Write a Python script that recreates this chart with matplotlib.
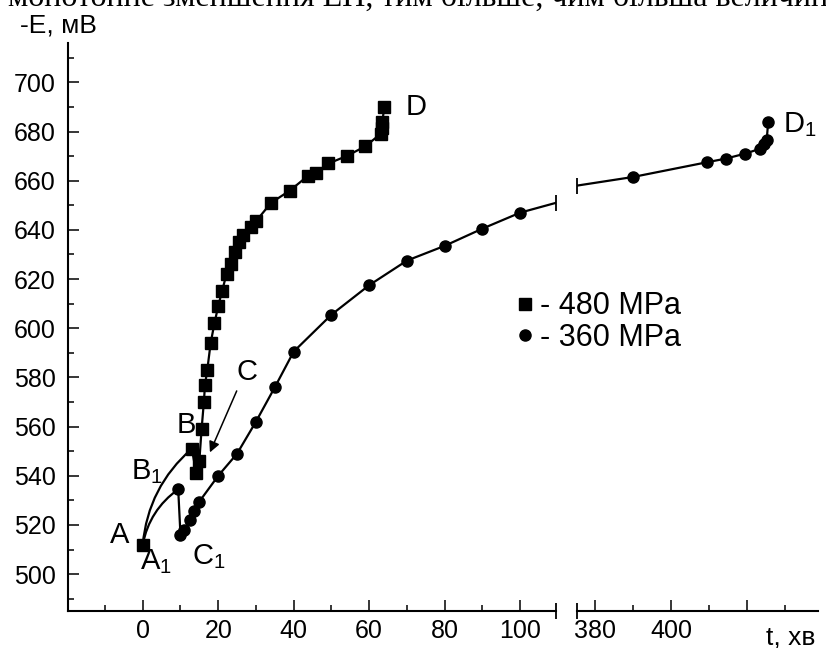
import matplotlib.pyplot as plt
from matplotlib.lines import Line2D
from matplotlib.ticker import MultipleLocator, FixedLocator, FixedFormatter

plt.rcParams['font.family'] = ['Liberation Sans', 'DejaVu Sans']
plt.rcParams['mathtext.fontset'] = 'custom'
plt.rcParams['mathtext.rm'] = 'Liberation Sans'

# ── дані ──────────────────────────────────────────────────────────────────────
# 480 MPa (квадрати), перша точка — A
t_480 = [0, 13, 14.2, 15, 15.6, 16.2, 16.5, 17.1, 18, 19, 20, 21, 22.2, 23.3,
         24.4, 25.5, 26.6, 28.8, 30, 34, 39, 43.8, 46, 49.2, 54, 59, 63, 63.3,
         63.5, 64]
e_480 = [512, 551, 541, 546, 559, 570, 577, 583, 594, 602, 609, 615, 622, 626,
         631, 635, 638, 641, 643.5, 651, 656, 662, 663, 667, 670, 674, 679,
         681.5, 684, 690]

# 360 MPa (кола), ліва частина: B1, C1, ...
t_360 = [9.4, 10, 11, 12.5, 13.6, 15, 20, 25, 30, 35, 40, 50, 60, 70, 80, 90, 100]
e_360 = [534.5, 516, 518, 522, 525.5, 529.5, 540, 549, 562, 576, 590.5, 605.5,
         617.5, 627.5, 633.5, 640.5, 647]

# 360 MPa, права частина (після розриву), остання — D1
t_360r = [390, 409.5, 414.5, 419.5, 423.5, 424.5, 425.2, 425.6]
e_360r = [661.5, 667.5, 669, 671, 673, 675, 676.5, 684]

# кінці лінії 360 MPa біля розриву осі
brk_t = [109.5, 375.3]
brk_e = [651, 658]

x_left = (-19.8, 109.5)
x_right = (375.3, 438.7)
y_lim = (485, 716)

# ── малюнок ───────────────────────────────────────────────────────────────────
fig = plt.figure(figsize=(8.26, 6.48), dpi=100)
ax = fig.add_axes([68/826, 37/648, 488/826, 568/648])
ax2 = fig.add_axes([577/826, 37/648, 241/826, 568/648])

for a in (ax, ax2):
    a.set_ylim(*y_lim)
    a.patch.set_visible(False)
    a.spines[['top', 'right']].set_visible(False)
    a.spines['bottom'].set_linewidth(1.5)
    a.tick_params(which='both', direction='in', width=1.1, labelsize=18)
    a.tick_params(which='major', length=8)
    a.tick_params(which='minor', length=4.5)
    a.tick_params(axis='x', pad=6)

ax.spines['left'].set_linewidth(1.5)
ax.set_xlim(*x_left)
ax.xaxis.set_major_locator(MultipleLocator(20))
ax.xaxis.set_minor_locator(MultipleLocator(10))
ax.yaxis.set_major_locator(MultipleLocator(20))
ax.yaxis.set_minor_locator(MultipleLocator(10))
ax.tick_params(axis='y', pad=9)

ax2.set_xlim(*x_right)
ax2.spines['left'].set_visible(False)
ax2.tick_params(axis='y', which='both', left=False, labelleft=False)
ax2.xaxis.set_major_locator(FixedLocator([380, 400, 420]))
ax2.xaxis.set_major_formatter(FixedFormatter(['380', '400', '']))
ax2.xaxis.set_minor_locator(FixedLocator([390, 410, 430]))

# 480 MPa
ax.plot(t_480[1:], e_480[1:], '-', color='black', lw=1.6)
ax.plot(t_480, e_480, 's', color='black', ms=8.5, ls='none')
ax.annotate('', xy=(t_480[1], e_480[1]), xytext=(t_480[0], e_480[0]),
            arrowprops=dict(arrowstyle='-', color='black', lw=1.6,
                            shrinkA=0, shrinkB=0,
                            connectionstyle='arc3,rad=-0.2'))

# 360 MPa
ax.plot(t_360 + brk_t[:1], e_360 + brk_e[:1], '-', color='black', lw=1.6)
ax.plot(t_360, e_360, 'o', color='black', ms=8, ls='none')
ax.annotate('', xy=(t_360[0], e_360[0]), xytext=(t_480[0], e_480[0]),
            arrowprops=dict(arrowstyle='-', color='black', lw=1.6,
                            shrinkA=0, shrinkB=0,
                            connectionstyle='arc3,rad=-0.2'))
ax2.plot(brk_t[1:] + t_360r, brk_e[1:] + e_360r, '-', color='black', lw=1.6)
ax2.plot(t_360r, e_360r, 'o', color='black', ms=8, ls='none')

# позначки розриву: на лінії та на осі
ax.plot(brk_t[0], brk_e[0], '|', color='black', ms=11, mew=1.3, clip_on=False)
ax2.plot(brk_t[1], brk_e[1], '|', color='black', ms=11, mew=1.3, clip_on=False)
ax.plot(brk_t[0], y_lim[0], '|', color='black', ms=11, mew=1.3, clip_on=False)
ax2.plot(brk_t[1], y_lim[0], '|', color='black', ms=11, mew=1.3, clip_on=False)

# підписи точок
lbl = dict(fontsize=21, ha='center', va='center')
ax.text(-6, 516, 'A', **lbl)
ax.text(3.5, 505, r'A$_{\mathrm{1}}$', **lbl)
ax.text(11.5, 560.5, 'B', **lbl)
ax.text(1, 541.5, r'B$_{\mathrm{1}}$', **lbl)
ax.text(27.5, 582, 'C', **lbl)
ax.text(17.5, 507, r'C$_{\mathrm{1}}$', **lbl)
ax.text(72.5, 690, 'D', **lbl)
ax2.text(434, 683, r'D$_{\mathrm{1}}$', **lbl)
ax.annotate('', xy=(17.8, 549.5), xytext=(24.9, 574.5),
            arrowprops=dict(arrowstyle='-|>', color='black', lw=1.1,
                            mutation_scale=16, shrinkA=0, shrinkB=0))

# легенда
handles = [Line2D([], [], marker='s', color='black', ls='none', ms=8),
           Line2D([], [], marker='o', color='black', ls='none', ms=8)]
fig.legend(handles, ['- 480 MPa', '- 360 MPa'], loc='center left',
           bbox_to_anchor=(517/826, 1 - 322/648), frameon=False, fontsize=22,
           handlelength=0.5, handletextpad=0.25, labelspacing=0.05, borderpad=0,
           borderaxespad=0)

# підписи осей
fig.text(20/826, 1 - 26/648, '-E, мВ', fontsize=19, ha='left', va='center')
fig.text(766/826, 1 - 637/648, 't, хв', fontsize=19, ha='left', va='center')
fig.text(8/826, 1 - 6/648, 'монотонне зменшення ЕП, тим більше, чим більша величина',
         fontsize=23, family='Liberation Serif', ha='left', va='baseline')

fig.savefig('out.png', dpi=100)
